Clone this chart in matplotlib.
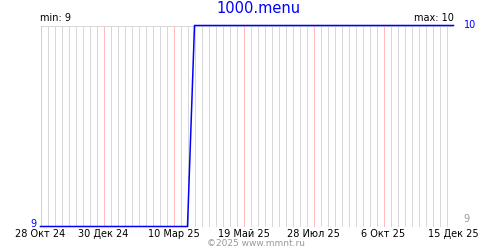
"""
plot.py

Step chart of 1000.menu rank history, saved as out.png.
"""

import matplotlib
matplotlib.use("Agg")

import matplotlib.pyplot as plt
import pandas as pd

TITLE = "1000.menu"
FOOTER = "©2025 www.mmnt.ru"

point_dates = ["2024-10-28", "2025-03-24", "2025-03-31", "2025-12-15"]
point_values = [9, 9, 10, 10]

label_dates = ["2024-10-28", "2024-12-30", "2025-03-10", "2025-05-19",
               "2025-07-28", "2025-10-06", "2025-12-15"]
label_texts = ["28 Окт 24", "30 Дек 24", "10 Мар 25", "19 Май 25",
               "28 Июл 25", "6 Окт 25", "15 Дек 25"]

y_min, y_max = 9, 10

COLOR_LINE = "#0000ff"
COLOR_WEEK = "#d8d8d8"
COLOR_MAJOR = "#ffbcbc"

plt.rcParams["font.family"] = ["DejaVu Sans"]

dates = pd.to_datetime(point_dates)
majors = pd.to_datetime(label_dates)
weeks = pd.date_range(majors[0], majors[-1], freq="7D")

fig = plt.figure(figsize=(5, 2.5), dpi=100)
# one pixel per day, lines centred on pixel centres
ax = fig.add_axes([40.5 / 500, 1 - 226.5 / 250, 413 / 500, 201 / 250])

grid_kw = dict(linewidth=0.72, antialiased=False)
for d in weeks:
    ax.axvline(d, color=COLOR_WEEK, zorder=1, **grid_kw)
for d in majors:
    ax.axvline(d, color=COLOR_MAJOR, zorder=2, **grid_kw)
ax.axhline(y_max, color=COLOR_WEEK, zorder=1, **grid_kw)
ax.axhline(y_min, color=COLOR_WEEK, zorder=1, **grid_kw)

ax.plot(dates, point_values, color=COLOR_LINE, linewidth=1.1, clip_on=False, zorder=3)

ax.set_xlim(majors[0], majors[-1])
ax.set_ylim(y_min, y_max)
ax.set_xticks(majors)
ax.set_xticklabels(label_texts, fontsize=7)
ax.tick_params(axis="x", length=0, pad=1.5)
ax.set_yticks([])
for s in ax.spines.values():
    s.set_visible(False)

ax.text(-0.01, 0.01, str(y_min), transform=ax.transAxes, ha="right", va="center",
        fontsize=7, color=COLOR_LINE)
ax.text(1.025, 1, str(y_max), transform=ax.transAxes, ha="left", va="center",
        fontsize=7, color=COLOR_LINE)
ax.text(1.025, 0.01, str(y_min), transform=ax.transAxes, ha="left", va="bottom",
        fontsize=7, color="#999999")
ax.text(0.0, 1.01, f"min: {y_min}", transform=ax.transAxes, ha="left", va="bottom",
        fontsize=7, color="black")
ax.text(1.0, 1.01, f"max: {y_max}", transform=ax.transAxes, ha="right", va="bottom",
        fontsize=7, color="black")

fig.text(0.518, 0.965, TITLE, ha="center", va="center", fontsize=10.5, color=COLOR_LINE)
fig.text(0.512, 0.025, FOOTER, ha="center", va="center", fontsize=6.5, color="#999999")

fig.savefig("out.png", dpi=100)
